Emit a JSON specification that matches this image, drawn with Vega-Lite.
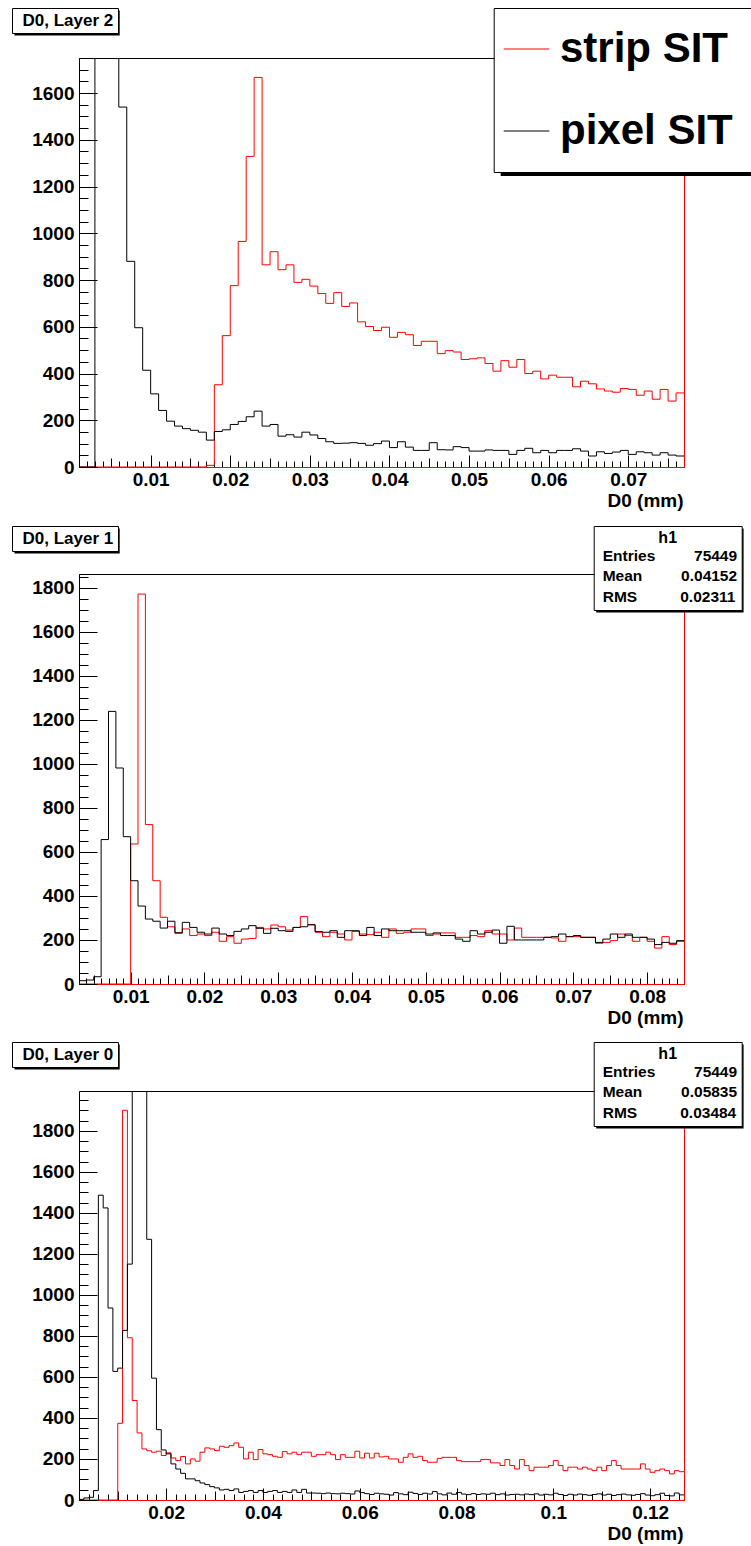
{
  "$schema": "https://vega.github.io/schema/vega-lite/v6.json",
  "background": "white",
  "padding": {"left": 11, "top": 7, "right": 0, "bottom": 5},
  "bounds": "flush",
  "spacing": 107,
  "config": {
    "view": {"stroke": "black", "strokeWidth": 1},
    "font": "Liberation Sans",
    "axis": {"grid": false, "labelFont": "Liberation Sans", "labelFontWeight": "bold", "labelFontSize": 19, "labelColor": "black", "tickColor": "black", "tickWidth": 1, "domainColor": "black", "domainWidth": 1, "labelOverlap": false, "labelFlush": false, "titleFont": "Liberation Sans", "titleFontWeight": "bold", "titleFontSize": 19, "titleColor": "black"},
    "legend": {"labelFont": "Liberation Sans", "labelFontWeight": "bold", "labelColor": "black", "titleFont": "Liberation Sans", "titleFontWeight": "bold", "titleColor": "black", "labelLimit": 600}
  },
  "resolve": {
    "scale": {"color": "independent", "shape": "independent", "fill": "independent", "stroke": "independent", "strokeDash": "independent", "size": "independent"},
    "legend": {"color": "independent", "shape": "independent", "fill": "independent", "stroke": "independent", "strokeDash": "independent", "size": "independent"}
  },
  "vconcat": [
    {
      "width": 605, "height": 409,
      "resolve": {"axis": {"x": "independent", "y": "independent"}},
      "data": {"values": [
        {"x":0.001,"strip SIT":0,"pixel SIT":0},{"x":0.002,"strip SIT":0,"pixel SIT":0},{"x":0.003,"strip SIT":0,"pixel SIT":2600},{"x":0.004,"strip SIT":0,"pixel SIT":3100},{"x":0.005,"strip SIT":0,"pixel SIT":2400},{"x":0.006,"strip SIT":0,"pixel SIT":1540},{"x":0.007,"strip SIT":0,"pixel SIT":880},{"x":0.008,"strip SIT":0,"pixel SIT":596},{"x":0.009,"strip SIT":0,"pixel SIT":414},{"x":0.010,"strip SIT":0,"pixel SIT":313},
        {"x":0.011,"strip SIT":0,"pixel SIT":242},{"x":0.012,"strip SIT":0,"pixel SIT":196},{"x":0.013,"strip SIT":0,"pixel SIT":175},{"x":0.014,"strip SIT":0,"pixel SIT":164},{"x":0.015,"strip SIT":0,"pixel SIT":157},{"x":0.016,"strip SIT":0,"pixel SIT":149},{"x":0.017,"strip SIT":7,"pixel SIT":115},{"x":0.018,"strip SIT":352,"pixel SIT":152},{"x":0.019,"strip SIT":562,"pixel SIT":159},{"x":0.020,"strip SIT":776,"pixel SIT":182},
        {"x":0.021,"strip SIT":965,"pixel SIT":195},{"x":0.022,"strip SIT":1329,"pixel SIT":215},{"x":0.023,"strip SIT":1667,"pixel SIT":239},{"x":0.024,"strip SIT":865,"pixel SIT":175},{"x":0.025,"strip SIT":921,"pixel SIT":182},{"x":0.026,"strip SIT":844,"pixel SIT":132},{"x":0.027,"strip SIT":865,"pixel SIT":138},{"x":0.028,"strip SIT":790,"pixel SIT":128},{"x":0.029,"strip SIT":803,"pixel SIT":149},{"x":0.030,"strip SIT":774,"pixel SIT":137},
        {"x":0.031,"strip SIT":742,"pixel SIT":122},{"x":0.032,"strip SIT":700,"pixel SIT":108},{"x":0.033,"strip SIT":746,"pixel SIT":101},{"x":0.034,"strip SIT":687,"pixel SIT":102},{"x":0.035,"strip SIT":702,"pixel SIT":104},{"x":0.036,"strip SIT":621,"pixel SIT":101},{"x":0.037,"strip SIT":601,"pixel SIT":93},{"x":0.038,"strip SIT":584,"pixel SIT":100},{"x":0.039,"strip SIT":598,"pixel SIT":111},{"x":0.040,"strip SIT":555,"pixel SIT":83},
        {"x":0.041,"strip SIT":576,"pixel SIT":108},{"x":0.042,"strip SIT":566,"pixel SIT":85},{"x":0.043,"strip SIT":520,"pixel SIT":71},{"x":0.044,"strip SIT":538,"pixel SIT":71},{"x":0.045,"strip SIT":538,"pixel SIT":104},{"x":0.046,"strip SIT":485,"pixel SIT":74},{"x":0.047,"strip SIT":498,"pixel SIT":73},{"x":0.048,"strip SIT":492,"pixel SIT":87},{"x":0.049,"strip SIT":460,"pixel SIT":83},{"x":0.050,"strip SIT":463,"pixel SIT":68},
        {"x":0.051,"strip SIT":467,"pixel SIT":68},{"x":0.052,"strip SIT":443,"pixel SIT":73},{"x":0.053,"strip SIT":410,"pixel SIT":71},{"x":0.054,"strip SIT":455,"pixel SIT":71},{"x":0.055,"strip SIT":427,"pixel SIT":54},{"x":0.056,"strip SIT":460,"pixel SIT":71},{"x":0.057,"strip SIT":400,"pixel SIT":80},{"x":0.058,"strip SIT":410,"pixel SIT":61},{"x":0.059,"strip SIT":377,"pixel SIT":71},{"x":0.060,"strip SIT":393,"pixel SIT":61},
        {"x":0.061,"strip SIT":384,"pixel SIT":71},{"x":0.062,"strip SIT":384,"pixel SIT":71},{"x":0.063,"strip SIT":343,"pixel SIT":78},{"x":0.064,"strip SIT":367,"pixel SIT":68},{"x":0.065,"strip SIT":356,"pixel SIT":47},{"x":0.066,"strip SIT":334,"pixel SIT":65},{"x":0.067,"strip SIT":325,"pixel SIT":58},{"x":0.068,"strip SIT":320,"pixel SIT":64},{"x":0.069,"strip SIT":336,"pixel SIT":71},{"x":0.070,"strip SIT":332,"pixel SIT":54},
        {"x":0.071,"strip SIT":307,"pixel SIT":65},{"x":0.072,"strip SIT":325,"pixel SIT":61},{"x":0.073,"strip SIT":290,"pixel SIT":51},{"x":0.074,"strip SIT":332,"pixel SIT":61},{"x":0.075,"strip SIT":282,"pixel SIT":51},{"x":0.076,"strip SIT":317,"pixel SIT":47},{"x":0.077,"strip SIT":317,"pixel SIT":47}
      ]},
      "layer": [
        {
          "transform": [{"fold": ["strip SIT", "pixel SIT"], "as": ["series", "count"]}],
          "mark": {"type": "line", "interpolate": "step-after", "clip": true, "strokeWidth": 1},
          "encoding": {
            "x": {"field": "x", "type": "quantitative", "scale": {"domain": [0.001, 0.077], "nice": false, "zero": false},
              "axis": {
                "values": [0.001,0.002,0.003,0.004,0.005,0.006,0.007,0.008,0.009,0.01,0.011,0.012,0.013,0.014,0.015,0.016,0.017,0.018,0.019,0.02,0.021,0.022,0.023,0.024,0.025,0.026,0.027,0.028,0.029,0.03,0.031,0.032,0.033,0.034,0.035,0.036,0.037,0.038,0.039,0.04,0.041,0.042,0.043,0.044,0.045,0.046,0.047,0.048,0.049,0.05,0.051,0.052,0.053,0.054,0.055,0.056,0.057,0.058,0.059,0.06,0.061,0.062,0.063,0.064,0.065,0.066,0.067,0.068,0.069,0.07,0.071,0.072,0.073,0.074,0.075,0.076,0.077],
                "labelExpr": "abs(datum.value*100-round(datum.value*100))<0.001 ? format(datum.value,'.2~f') : ''",
                "tickSize": {"condition": [{"test": "abs(datum.value*100-round(datum.value*100))<0.001", "value": -12}, {"test": "abs(datum.value*200-round(datum.value*200))<0.001", "value": -9}], "value": -6},
                "labelPadding": 15,
                "domainColor": "#ff0000",
                "title": "D0 (mm)", "titleAnchor": "end", "titleAlign": "right", "titleBaseline": "alphabetic", "titleX": 604, "titleY": 39
              }},
            "y": {"field": "count", "type": "quantitative", "scale": {"domain": [0, 1750], "nice": false, "zero": false},
              "axis": {
                "values": [0,50,100,150,200,250,300,350,400,450,500,550,600,650,700,750,800,850,900,950,1000,1050,1100,1150,1200,1250,1300,1350,1400,1450,1500,1550,1600,1650,1700,1750],
                "labelExpr": "datum.value % 200 == 0 ? format(datum.value,'d') : ''",
                "tickSize": {"condition": {"test": "datum.value % 200 == 0", "value": -18}, "value": -9},
                "labelPadding": 23,
                "title": null
              }},
            "color": {"field": "series", "type": "nominal", "scale": {"domain": ["strip SIT", "pixel SIT"], "range": ["#ff0000", "#000000"]},
              "legend": {"orient": "none", "legendX": 414.7, "legendY": -50, "zindex": 3, "title": null, "fillColor": "white", "strokeColor": "black", "padding": 20, "symbolType": "M-1.55,0H0.73", "symbolSize": 1600, "symbolStrokeWidth": 1, "labelFontSize": 42, "labelOffset": 4.3, "rowPadding": 40, "labelColor": "black"}}
          }
        },
        {
          "transform": [{"fold": ["strip SIT", "pixel SIT"], "as": ["series", "count"]}],
          "mark": {"type": "line", "interpolate": "step-after", "clip": true, "opacity": 0},
          "encoding": {
            "x": {"field": "x", "type": "quantitative", "axis": null},
            "y": {"field": "count", "type": "quantitative", "axis": {"orient": "right", "domainColor": "#ff0000", "ticks": false, "labels": false, "title": null}},
            "detail": {"field": "series"}
          }
        },
        {
          "data": {"values": [{"label": "D0, Layer 2"}]},
          "mark": {"type": "point", "opacity": 0},
          "encoding": {
            "shape": {"field": "label", "type": "nominal", "legend": {"orient": "none", "legendX": -67, "legendY": -50, "zindex": 3, "title": null, "fillColor": "white", "strokeColor": "black", "padding": 4, "symbolSize": 0, "symbolStrokeWidth": 0, "symbolOpacity": 0, "labelFontSize": 17, "labelOffset": -10.5, "labelColor": "black"}}
          }
        },
        {
          "data": {"values": [{"titleShadow": "title box shadow", "legendShadow": "legend box shadow"}]},
          "mark": {"type": "point", "opacity": 0, "filled": true, "color": "black"},
          "encoding": {
            "fill": {"field": "titleShadow", "type": "nominal", "scale": {"range": ["black"]}, "legend": {"orient": "none", "legendX": -16.9, "legendY": -40, "zindex": 2, "title": null, "padding": 0, "symbolType": "M-10.52,-2.5H10.52V2.5H-10.52Z", "symbolSize": 100, "symbolStrokeWidth": 0, "symbolOpacity": 1, "labelFontSize": 1, "labelOffset": 0, "labelExpr": "''"}},
            "strokeDash": {"field": "legendShadow", "type": "nominal", "legend": {"orient": "none", "legendX": 546.2, "legendY": 31, "zindex": 2, "title": null, "padding": 0, "symbolType": "M-25.9,-16.4H25.9V16.4H-25.9Z", "symbolSize": 100, "symbolStrokeWidth": 0, "symbolOpacity": 1, "symbolFillColor": "black", "labelFontSize": 1, "labelOffset": 0, "labelExpr": "''"}}
          }
        }
      ]
    },
    {
      "width": 605, "height": 410,
      "resolve": {"axis": {"x": "independent", "y": "independent"}},
      "data": {"values": [
        {"x":0.003,"strip SIT":0,"pixel SIT":15},{"x":0.004,"strip SIT":0,"pixel SIT":18},{"x":0.005,"strip SIT":0,"pixel SIT":33},{"x":0.006,"strip SIT":0,"pixel SIT":656},{"x":0.007,"strip SIT":0,"pixel SIT":1238},{"x":0.008,"strip SIT":0,"pixel SIT":981},{"x":0.009,"strip SIT":0,"pixel SIT":669},{"x":0.010,"strip SIT":636,"pixel SIT":469},
        {"x":0.011,"strip SIT":1771,"pixel SIT":354},{"x":0.012,"strip SIT":724,"pixel SIT":295},{"x":0.013,"strip SIT":469,"pixel SIT":285},{"x":0.014,"strip SIT":303,"pixel SIT":254},{"x":0.015,"strip SIT":260,"pixel SIT":285},{"x":0.016,"strip SIT":230,"pixel SIT":233},{"x":0.017,"strip SIT":250,"pixel SIT":280},{"x":0.018,"strip SIT":220,"pixel SIT":257},{"x":0.019,"strip SIT":227,"pixel SIT":235},{"x":0.020,"strip SIT":220,"pixel SIT":227},
        {"x":0.021,"strip SIT":235,"pixel SIT":254},{"x":0.022,"strip SIT":194,"pixel SIT":227},{"x":0.023,"strip SIT":215,"pixel SIT":220},{"x":0.024,"strip SIT":185,"pixel SIT":239},{"x":0.025,"strip SIT":204,"pixel SIT":250},{"x":0.026,"strip SIT":207,"pixel SIT":265},{"x":0.027,"strip SIT":257,"pixel SIT":253},{"x":0.028,"strip SIT":250,"pixel SIT":230},{"x":0.029,"strip SIT":268,"pixel SIT":253},{"x":0.030,"strip SIT":260,"pixel SIT":242},
        {"x":0.031,"strip SIT":245,"pixel SIT":239},{"x":0.032,"strip SIT":257,"pixel SIT":257},{"x":0.033,"strip SIT":306,"pixel SIT":260},{"x":0.034,"strip SIT":269,"pixel SIT":269},{"x":0.035,"strip SIT":235,"pixel SIT":238},{"x":0.036,"strip SIT":215,"pixel SIT":235},{"x":0.037,"strip SIT":235,"pixel SIT":242},{"x":0.038,"strip SIT":227,"pixel SIT":212},{"x":0.039,"strip SIT":200,"pixel SIT":242},{"x":0.040,"strip SIT":239,"pixel SIT":242},
        {"x":0.041,"strip SIT":227,"pixel SIT":220},{"x":0.042,"strip SIT":224,"pixel SIT":257},{"x":0.043,"strip SIT":235,"pixel SIT":220},{"x":0.044,"strip SIT":212,"pixel SIT":250},{"x":0.045,"strip SIT":250,"pixel SIT":242},{"x":0.046,"strip SIT":230,"pixel SIT":242},{"x":0.047,"strip SIT":235,"pixel SIT":242},{"x":0.048,"strip SIT":250,"pixel SIT":235},{"x":0.049,"strip SIT":250,"pixel SIT":235},{"x":0.050,"strip SIT":220,"pixel SIT":227},
        {"x":0.051,"strip SIT":227,"pixel SIT":232},{"x":0.052,"strip SIT":232,"pixel SIT":220},{"x":0.053,"strip SIT":232,"pixel SIT":220},{"x":0.054,"strip SIT":212,"pixel SIT":204},{"x":0.055,"strip SIT":212,"pixel SIT":194},{"x":0.056,"strip SIT":220,"pixel SIT":242},{"x":0.057,"strip SIT":215,"pixel SIT":227},{"x":0.058,"strip SIT":242,"pixel SIT":235},{"x":0.059,"strip SIT":227,"pixel SIT":245},{"x":0.060,"strip SIT":227,"pixel SIT":185},
        {"x":0.061,"strip SIT":200,"pixel SIT":262},{"x":0.062,"strip SIT":254,"pixel SIT":200},{"x":0.063,"strip SIT":212,"pixel SIT":200},{"x":0.064,"strip SIT":212,"pixel SIT":200},{"x":0.065,"strip SIT":212,"pixel SIT":200},{"x":0.066,"strip SIT":212,"pixel SIT":212},{"x":0.067,"strip SIT":209,"pixel SIT":215},{"x":0.068,"strip SIT":194,"pixel SIT":227},{"x":0.069,"strip SIT":215,"pixel SIT":215},{"x":0.070,"strip SIT":215,"pixel SIT":220},
        {"x":0.071,"strip SIT":212,"pixel SIT":212},{"x":0.072,"strip SIT":212,"pixel SIT":212},{"x":0.073,"strip SIT":185,"pixel SIT":189},{"x":0.074,"strip SIT":189,"pixel SIT":204},{"x":0.075,"strip SIT":197,"pixel SIT":227},{"x":0.076,"strip SIT":227,"pixel SIT":212},{"x":0.077,"strip SIT":220,"pixel SIT":227},{"x":0.078,"strip SIT":194,"pixel SIT":212},{"x":0.079,"strip SIT":212,"pixel SIT":212},{"x":0.080,"strip SIT":194,"pixel SIT":204},
        {"x":0.081,"strip SIT":163,"pixel SIT":179},{"x":0.082,"strip SIT":215,"pixel SIT":189},{"x":0.083,"strip SIT":179,"pixel SIT":185},{"x":0.084,"strip SIT":194,"pixel SIT":197},{"x":0.085,"strip SIT":194,"pixel SIT":197}
      ]},
      "layer": [
        {
          "transform": [{"fold": ["strip SIT", "pixel SIT"], "as": ["series", "count"]}],
          "mark": {"type": "line", "interpolate": "step-after", "clip": true, "strokeWidth": 1},
          "encoding": {
            "x": {"field": "x", "type": "quantitative", "scale": {"domain": [0.003, 0.085], "nice": false, "zero": false},
              "axis": {
                "values": [0.003,0.004,0.005,0.006,0.007,0.008,0.009,0.01,0.011,0.012,0.013,0.014,0.015,0.016,0.017,0.018,0.019,0.02,0.021,0.022,0.023,0.024,0.025,0.026,0.027,0.028,0.029,0.03,0.031,0.032,0.033,0.034,0.035,0.036,0.037,0.038,0.039,0.04,0.041,0.042,0.043,0.044,0.045,0.046,0.047,0.048,0.049,0.05,0.051,0.052,0.053,0.054,0.055,0.056,0.057,0.058,0.059,0.06,0.061,0.062,0.063,0.064,0.065,0.066,0.067,0.068,0.069,0.07,0.071,0.072,0.073,0.074,0.075,0.076,0.077,0.078,0.079,0.08,0.081,0.082,0.083,0.084,0.085],
                "labelExpr": "abs(datum.value*100-round(datum.value*100))<0.001 ? format(datum.value,'.2~f') : ''",
                "tickSize": {"condition": [{"test": "abs(datum.value*100-round(datum.value*100))<0.001", "value": -12}, {"test": "abs(datum.value*200-round(datum.value*200))<0.001", "value": -9}], "value": -6},
                "labelPadding": 15,
                "domainColor": "#ff0000",
                "title": "D0 (mm)", "titleAnchor": "end", "titleAlign": "right", "titleBaseline": "alphabetic", "titleX": 604, "titleY": 39
              }},
            "y": {"field": "count", "type": "quantitative", "scale": {"domain": [0, 1862], "nice": false, "zero": false},
              "axis": {
                "values": [0,50,100,150,200,250,300,350,400,450,500,550,600,650,700,750,800,850,900,950,1000,1050,1100,1150,1200,1250,1300,1350,1400,1450,1500,1550,1600,1650,1700,1750,1800,1850],
                "labelExpr": "datum.value % 200 == 0 ? format(datum.value,'d') : ''",
                "tickSize": {"condition": {"test": "datum.value % 200 == 0", "value": -18}, "value": -9},
                "labelPadding": 23,
                "title": null
              }},
            "color": {"field": "series", "type": "nominal", "scale": {"domain": ["strip SIT", "pixel SIT"], "range": ["#ff0000", "#000000"]}, "legend": null}
          }
        },
        {
          "transform": [{"fold": ["strip SIT", "pixel SIT"], "as": ["series", "count"]}],
          "mark": {"type": "line", "interpolate": "step-after", "clip": true, "opacity": 0},
          "encoding": {
            "x": {"field": "x", "type": "quantitative", "axis": null},
            "y": {"field": "count", "type": "quantitative", "axis": {"orient": "right", "domainColor": "#ff0000", "ticks": false, "labels": false, "title": null}},
            "detail": {"field": "series"}
          }
        },
        {
          "data": {"values": [{"label": "D0, Layer 1"}]},
          "mark": {"type": "point", "opacity": 0},
          "encoding": {
            "shape": {"field": "label", "type": "nominal", "legend": {"orient": "none", "legendX": -67, "legendY": -48, "zindex": 3, "title": null, "fillColor": "white", "strokeColor": "black", "padding": 4, "symbolSize": 0, "symbolStrokeWidth": 0, "symbolOpacity": 0, "labelFontSize": 17, "labelOffset": -10.5, "labelColor": "black"}}
          }
        },
        {
          "data": {"values": [
            {"stat": "Entries\u00a0\u00a0\u00a0\u00a0\u00a0\u00a0\u00a0\u00a0\u00a075449"},
            {"stat": "Mean\u00a0\u00a0\u00a0\u00a0\u00a0\u00a0\u00a0\u00a0\u00a00.04152"},
            {"stat": "RMS\u00a0\u00a0\u00a0\u00a0\u00a0\u00a0\u00a0\u00a0\u00a0\u00a00.02311"}
          ]},
          "mark": {"type": "point", "opacity": 0},
          "encoding": {
            "strokeDash": {"field": "stat", "type": "nominal", "legend": {"orient": "none", "legendX": 514.7, "legendY": -48, "zindex": 3, "title": "h1", "titleFontSize": 16, "titleAnchor": "middle", "titlePadding": 2, "fillColor": "white", "strokeColor": "black", "padding": 4, "symbolSize": 0, "symbolStrokeWidth": 0, "symbolOpacity": 0, "labelFontSize": 15.5, "labelOffset": -10.5, "rowPadding": 3.5, "labelColor": "black"}}
          }
        },
        {
          "data": {"values": [{"titleShadow": "title box shadow", "statShadow": "stats box shadow", "statRule": "stats header rule"}]},
          "mark": {"type": "point", "opacity": 0, "filled": true, "color": "black"},
          "encoding": {
            "fill": {"field": "titleShadow", "type": "nominal", "scale": {"range": ["black"]}, "legend": {"orient": "none", "legendX": -16.9, "legendY": -38, "zindex": 2, "title": null, "padding": 0, "symbolType": "M-10.52,-2.5H10.52V2.5H-10.52Z", "symbolSize": 100, "symbolStrokeWidth": 0, "symbolOpacity": 1, "labelFontSize": 1, "labelOffset": 0, "labelExpr": "''"}},
            "stroke": {"field": "statShadow", "type": "nominal", "scale": {"range": ["black"]}, "legend": {"orient": "none", "legendX": 585.9, "legendY": -8.5, "zindex": 2, "title": null, "padding": 0, "symbolType": "M-14.74,-8.4H14.74V8.4H-14.74Z", "symbolSize": 100, "symbolStrokeWidth": 0, "symbolOpacity": 1, "symbolFillColor": "black", "labelFontSize": 1, "labelOffset": 0, "labelExpr": "''"}},
            "size": {"field": "statRule", "type": "ordinal", "scale": {"range": [100, 100]}, "legend": {"orient": "none", "legendX": 582.9, "legendY": -33, "zindex": 4, "title": null, "padding": 0, "symbolType": "M-14.74,0H14.74", "symbolStrokeWidth": 1, "symbolStrokeColor": "black", "symbolOpacity": 1, "labelFontSize": 1, "labelOffset": 0, "labelExpr": "''"}}
          }
        }
      ]
    },
    {
      "width": 605, "height": 409,
      "resolve": {"axis": {"x": "independent", "y": "independent"}},
      "data": {"values": [
        {"x":0.002,"strip SIT":0,"pixel SIT":3},{"x":0.003,"strip SIT":0,"pixel SIT":10},{"x":0.004,"strip SIT":0,"pixel SIT":13},{"x":0.005,"strip SIT":0,"pixel SIT":46},{"x":0.006,"strip SIT":0,"pixel SIT":1486},{"x":0.007,"strip SIT":0,"pixel SIT":1424},{"x":0.008,"strip SIT":0,"pixel SIT":936},{"x":0.009,"strip SIT":0,"pixel SIT":627},{"x":0.010,"strip SIT":374,"pixel SIT":643},
        {"x":0.011,"strip SIT":1900,"pixel SIT":827},{"x":0.012,"strip SIT":791,"pixel SIT":1150},{"x":0.013,"strip SIT":485,"pixel SIT":2400},{"x":0.014,"strip SIT":327,"pixel SIT":2900},{"x":0.015,"strip SIT":249,"pixel SIT":2300},{"x":0.016,"strip SIT":240,"pixel SIT":1271},{"x":0.017,"strip SIT":233,"pixel SIT":594},{"x":0.018,"strip SIT":238,"pixel SIT":343},{"x":0.019,"strip SIT":217,"pixel SIT":244},{"x":0.020,"strip SIT":230,"pixel SIT":225},
        {"x":0.021,"strip SIT":205,"pixel SIT":176},{"x":0.022,"strip SIT":192,"pixel SIT":151},{"x":0.023,"strip SIT":212,"pixel SIT":130},{"x":0.024,"strip SIT":176,"pixel SIT":103},{"x":0.025,"strip SIT":200,"pixel SIT":103},{"x":0.026,"strip SIT":189,"pixel SIT":94},{"x":0.027,"strip SIT":233,"pixel SIT":83},{"x":0.028,"strip SIT":254,"pixel SIT":75},{"x":0.029,"strip SIT":249,"pixel SIT":65},{"x":0.030,"strip SIT":241,"pixel SIT":59},
        {"x":0.031,"strip SIT":262,"pixel SIT":49},{"x":0.032,"strip SIT":257,"pixel SIT":52},{"x":0.033,"strip SIT":265,"pixel SIT":46},{"x":0.034,"strip SIT":278,"pixel SIT":54},{"x":0.035,"strip SIT":257,"pixel SIT":37},{"x":0.036,"strip SIT":200,"pixel SIT":42},{"x":0.037,"strip SIT":233,"pixel SIT":46},{"x":0.038,"strip SIT":197,"pixel SIT":37},{"x":0.039,"strip SIT":246,"pixel SIT":46},{"x":0.040,"strip SIT":225,"pixel SIT":37},
        {"x":0.041,"strip SIT":221,"pixel SIT":42},{"x":0.042,"strip SIT":213,"pixel SIT":46},{"x":0.043,"strip SIT":208,"pixel SIT":37},{"x":0.044,"strip SIT":236,"pixel SIT":42},{"x":0.045,"strip SIT":225,"pixel SIT":37},{"x":0.046,"strip SIT":233,"pixel SIT":49},{"x":0.047,"strip SIT":221,"pixel SIT":37},{"x":0.048,"strip SIT":233,"pixel SIT":52},{"x":0.049,"strip SIT":233,"pixel SIT":34},{"x":0.050,"strip SIT":213,"pixel SIT":34},
        {"x":0.051,"strip SIT":221,"pixel SIT":33},{"x":0.052,"strip SIT":221,"pixel SIT":31},{"x":0.053,"strip SIT":233,"pixel SIT":34},{"x":0.054,"strip SIT":221,"pixel SIT":31},{"x":0.055,"strip SIT":197,"pixel SIT":30},{"x":0.056,"strip SIT":221,"pixel SIT":33},{"x":0.057,"strip SIT":208,"pixel SIT":31},{"x":0.058,"strip SIT":208,"pixel SIT":29},{"x":0.059,"strip SIT":238,"pixel SIT":44},{"x":0.060,"strip SIT":205,"pixel SIT":36},
        {"x":0.061,"strip SIT":228,"pixel SIT":31},{"x":0.062,"strip SIT":205,"pixel SIT":27},{"x":0.063,"strip SIT":228,"pixel SIT":33},{"x":0.064,"strip SIT":210,"pixel SIT":30},{"x":0.065,"strip SIT":213,"pixel SIT":28},{"x":0.066,"strip SIT":200,"pixel SIT":24},{"x":0.067,"strip SIT":200,"pixel SIT":36},{"x":0.068,"strip SIT":184,"pixel SIT":30},{"x":0.069,"strip SIT":208,"pixel SIT":26},{"x":0.070,"strip SIT":225,"pixel SIT":38},
        {"x":0.071,"strip SIT":208,"pixel SIT":32},{"x":0.072,"strip SIT":213,"pixel SIT":27},{"x":0.073,"strip SIT":192,"pixel SIT":33},{"x":0.074,"strip SIT":184,"pixel SIT":29},{"x":0.075,"strip SIT":184,"pixel SIT":41},{"x":0.076,"strip SIT":203,"pixel SIT":30},{"x":0.077,"strip SIT":208,"pixel SIT":25},{"x":0.078,"strip SIT":208,"pixel SIT":34},{"x":0.079,"strip SIT":208,"pixel SIT":28},{"x":0.080,"strip SIT":192,"pixel SIT":37},
        {"x":0.081,"strip SIT":187,"pixel SIT":29},{"x":0.082,"strip SIT":187,"pixel SIT":26},{"x":0.083,"strip SIT":187,"pixel SIT":31},{"x":0.084,"strip SIT":187,"pixel SIT":27},{"x":0.085,"strip SIT":197,"pixel SIT":30},{"x":0.086,"strip SIT":197,"pixel SIT":28},{"x":0.087,"strip SIT":181,"pixel SIT":33},{"x":0.088,"strip SIT":181,"pixel SIT":26},{"x":0.089,"strip SIT":168,"pixel SIT":30},{"x":0.090,"strip SIT":197,"pixel SIT":24},
        {"x":0.091,"strip SIT":168,"pixel SIT":27},{"x":0.092,"strip SIT":151,"pixel SIT":28},{"x":0.093,"strip SIT":197,"pixel SIT":25},{"x":0.094,"strip SIT":168,"pixel SIT":29},{"x":0.095,"strip SIT":143,"pixel SIT":26},{"x":0.096,"strip SIT":160,"pixel SIT":30},{"x":0.097,"strip SIT":160,"pixel SIT":24},{"x":0.098,"strip SIT":160,"pixel SIT":28},{"x":0.099,"strip SIT":168,"pixel SIT":25},{"x":0.100,"strip SIT":192,"pixel SIT":33},
        {"x":0.101,"strip SIT":168,"pixel SIT":27},{"x":0.102,"strip SIT":143,"pixel SIT":22},{"x":0.103,"strip SIT":160,"pixel SIT":28},{"x":0.104,"strip SIT":160,"pixel SIT":24},{"x":0.105,"strip SIT":151,"pixel SIT":29},{"x":0.106,"strip SIT":160,"pixel SIT":26},{"x":0.107,"strip SIT":151,"pixel SIT":23},{"x":0.108,"strip SIT":143,"pixel SIT":27},{"x":0.109,"strip SIT":160,"pixel SIT":30},{"x":0.110,"strip SIT":143,"pixel SIT":24},
        {"x":0.111,"strip SIT":168,"pixel SIT":28},{"x":0.112,"strip SIT":192,"pixel SIT":22},{"x":0.113,"strip SIT":168,"pixel SIT":26},{"x":0.114,"strip SIT":151,"pixel SIT":29},{"x":0.115,"strip SIT":151,"pixel SIT":25},{"x":0.116,"strip SIT":151,"pixel SIT":23},{"x":0.117,"strip SIT":151,"pixel SIT":27},{"x":0.118,"strip SIT":176,"pixel SIT":31},{"x":0.119,"strip SIT":151,"pixel SIT":24},{"x":0.120,"strip SIT":135,"pixel SIT":21},
        {"x":0.121,"strip SIT":143,"pixel SIT":26},{"x":0.122,"strip SIT":151,"pixel SIT":33},{"x":0.123,"strip SIT":143,"pixel SIT":22},{"x":0.124,"strip SIT":127,"pixel SIT":20},{"x":0.125,"strip SIT":143,"pixel SIT":34},{"x":0.126,"strip SIT":138,"pixel SIT":25},{"x":0.127,"strip SIT":138,"pixel SIT":25}
      ]},
      "layer": [
        {
          "transform": [{"fold": ["strip SIT", "pixel SIT"], "as": ["series", "count"]}],
          "mark": {"type": "line", "interpolate": "step-after", "clip": true, "strokeWidth": 1},
          "encoding": {
            "x": {"field": "x", "type": "quantitative", "scale": {"domain": [0.002, 0.127], "nice": false, "zero": false},
              "axis": {
                "values": [0.002,0.004,0.006,0.008,0.01,0.012,0.014,0.016,0.018,0.02,0.022,0.024,0.026,0.028,0.03,0.032,0.034,0.036,0.038,0.04,0.042,0.044,0.046,0.048,0.05,0.052,0.054,0.056,0.058,0.06,0.062,0.064,0.066,0.068,0.07,0.072,0.074,0.076,0.078,0.08,0.082,0.084,0.086,0.088,0.09,0.092,0.094,0.096,0.098,0.1,0.102,0.104,0.106,0.108,0.11,0.112,0.114,0.116,0.118,0.12,0.122,0.124,0.126],
                "labelExpr": "abs(datum.value*50-round(datum.value*50))<0.001 ? format(datum.value,'.2~f') : ''",
                "tickSize": {"condition": [{"test": "abs(datum.value*50-round(datum.value*50))<0.001", "value": -12}, {"test": "abs(datum.value*100-round(datum.value*100))<0.001", "value": -9}], "value": -6},
                "labelPadding": 15,
                "domainColor": "#ff0000",
                "title": "D0 (mm)", "titleAnchor": "end", "titleAlign": "right", "titleBaseline": "alphabetic", "titleX": 604, "titleY": 39
              }},
            "y": {"field": "count", "type": "quantitative", "scale": {"domain": [0, 1994], "nice": false, "zero": false},
              "axis": {
                "values": [0,50,100,150,200,250,300,350,400,450,500,550,600,650,700,750,800,850,900,950,1000,1050,1100,1150,1200,1250,1300,1350,1400,1450,1500,1550,1600,1650,1700,1750,1800,1850,1900,1950],
                "labelExpr": "datum.value % 200 == 0 ? format(datum.value,'d') : ''",
                "tickSize": {"condition": {"test": "datum.value % 200 == 0", "value": -18}, "value": -9},
                "labelPadding": 23,
                "title": null
              }},
            "color": {"field": "series", "type": "nominal", "scale": {"domain": ["strip SIT", "pixel SIT"], "range": ["#ff0000", "#000000"]}, "legend": null}
          }
        },
        {
          "transform": [{"fold": ["strip SIT", "pixel SIT"], "as": ["series", "count"]}],
          "mark": {"type": "line", "interpolate": "step-after", "clip": true, "opacity": 0},
          "encoding": {
            "x": {"field": "x", "type": "quantitative", "axis": null},
            "y": {"field": "count", "type": "quantitative", "axis": {"orient": "right", "domainColor": "#ff0000", "ticks": false, "labels": false, "title": null}},
            "detail": {"field": "series"}
          }
        },
        {
          "data": {"values": [{"label": "D0, Layer 0"}]},
          "mark": {"type": "point", "opacity": 0},
          "encoding": {
            "shape": {"field": "label", "type": "nominal", "legend": {"orient": "none", "legendX": -67, "legendY": -49, "zindex": 3, "title": null, "fillColor": "white", "strokeColor": "black", "padding": 4, "symbolSize": 0, "symbolStrokeWidth": 0, "symbolOpacity": 0, "labelFontSize": 17, "labelOffset": -10.5, "labelColor": "black"}}
          }
        },
        {
          "data": {"values": [
            {"stat": "Entries\u00a0\u00a0\u00a0\u00a0\u00a0\u00a0\u00a0\u00a0\u00a075449"},
            {"stat": "Mean\u00a0\u00a0\u00a0\u00a0\u00a0\u00a0\u00a0\u00a0\u00a00.05835"},
            {"stat": "RMS\u00a0\u00a0\u00a0\u00a0\u00a0\u00a0\u00a0\u00a0\u00a0\u00a00.03484"}
          ]},
          "mark": {"type": "point", "opacity": 0},
          "encoding": {
            "strokeDash": {"field": "stat", "type": "nominal", "legend": {"orient": "none", "legendX": 514.7, "legendY": -49, "zindex": 3, "title": "h1", "titleFontSize": 16, "titleAnchor": "middle", "titlePadding": 2, "fillColor": "white", "strokeColor": "black", "padding": 4, "symbolSize": 0, "symbolStrokeWidth": 0, "symbolOpacity": 0, "labelFontSize": 15.5, "labelOffset": -10.5, "rowPadding": 3.5, "labelColor": "black"}}
          }
        },
        {
          "data": {"values": [{"titleShadow": "title box shadow", "statShadow": "stats box shadow", "statRule": "stats header rule"}]},
          "mark": {"type": "point", "opacity": 0, "filled": true, "color": "black"},
          "encoding": {
            "fill": {"field": "titleShadow", "type": "nominal", "scale": {"range": ["black"]}, "legend": {"orient": "none", "legendX": -16.9, "legendY": -39, "zindex": 2, "title": null, "padding": 0, "symbolType": "M-10.52,-2.5H10.52V2.5H-10.52Z", "symbolSize": 100, "symbolStrokeWidth": 0, "symbolOpacity": 1, "labelFontSize": 1, "labelOffset": 0, "labelExpr": "''"}},
            "stroke": {"field": "statShadow", "type": "nominal", "scale": {"range": ["black"]}, "legend": {"orient": "none", "legendX": 585.9, "legendY": -9.5, "zindex": 2, "title": null, "padding": 0, "symbolType": "M-14.74,-8.4H14.74V8.4H-14.74Z", "symbolSize": 100, "symbolStrokeWidth": 0, "symbolOpacity": 1, "symbolFillColor": "black", "labelFontSize": 1, "labelOffset": 0, "labelExpr": "''"}},
            "size": {"field": "statRule", "type": "ordinal", "scale": {"range": [100, 100]}, "legend": {"orient": "none", "legendX": 582.9, "legendY": -34, "zindex": 4, "title": null, "padding": 0, "symbolType": "M-14.74,0H14.74", "symbolStrokeWidth": 1, "symbolStrokeColor": "black", "symbolOpacity": 1, "labelFontSize": 1, "labelOffset": 0, "labelExpr": "''"}}
          }
        }
      ]
    }
  ]
}
